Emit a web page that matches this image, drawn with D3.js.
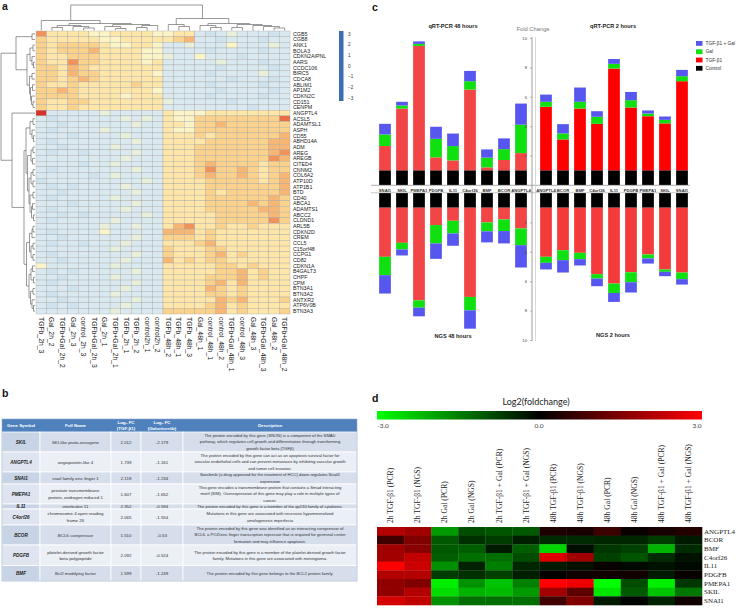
<!DOCTYPE html>
<html><head><meta charset="utf-8">
<script src="https://cdn.jsdelivr.net/npm/d3@7"></script>
<style>body{margin:0;background:#fff}svg{display:block}</style>
</head><body>
<svg id="fig" width="745" height="614"></svg>
<script>
// ================= DATA =================
// Panel a: expression heatmap (colour level 0-9 per cell)
const sampleNames = ["TGFb_2h_3","Gal_2h_2","TGFb+Gal_2h_2","Gal_2h_3","control_2h_3","TGFb+Gal_2h_3","Gal_2h_1","TGFb+Gal_2h_1","TGFb_2h_1","TGFb_2h_2","control2h_1","control2h_2","TGFb_48h_2","TGFb_48h_1","TGFb_48h_3","Gal_48h_1","control_48h_1","control_48h_2","TGFb+Gal_48h_1","control_48h_3","Gal_48h_3","TGFb+Gal_48h_3","Gal_48h_2","TGFb+Gal_48h_2"];
const geneNames = ["CGB5","CGB8","ANK1","BOLA3","CDKN2AIPNL","AARS","CCDC106","BIRC5","CDCA8","ABLIM1","AP1M2","CDKN2C","CD151","CENPM","ANGPTL4","ACSL5","ADAMTSL1","ASPH","CD55","ABHD14A","ADM","AREG","AREGB","CITED4","CNNM2","COL6A2","ATP10D","ATP1B1","BTD","CD40","ABCA1","ADAMTS1","ABCC2","CLDND1","ARL5B","CDKN2D","CREM","CCL5","C15orf48","CCPG1","CD82","CDKN1A","B4GALT3","CHPF","CPM","BTN3A1","BTN3A2","ANTXR2","ATP6V0B","BTN3A3"];
const upCluster2h = [
"744443344443344101211101","544444334444456110111011","545555433443112111311121","545556444433111101111011",
"544555444433211311101111","544755444434111112111011","554654444444111110111101","554655444443111101111211",
"554565444444111111011101","544544444544111101111011","556544444443111110111101","555544443444111101111011",
"544554444444211111011111","544544444444111111110111"];
const upCluster48h = [
"911111211111433344444444","101111112121433555555558","110111111211443556555555","101111211111433555555555",
"111011112111444545555556","101111111211444455555566","110111121111444555555566","101101111211444555555567",
"111111112111444555555576","111101121111444565555455","101111111211444575565455","111110121111444565565456",
"011111111121444455555456","101011112111444455555556","110111111211444454555556","101111121111444455555565",
"111011111211444455556565","101111112111444455555665","110101111121444445555565","101111121111444445555575",
"111111211211467445445444","101111311111666454444444","110111111211555454444444","101101112111444564444444",
"111111121111544455444444","101111111211544456454444","110111112111645455444444","311111121111444445545444",
"101011111211444445564544","110111121111444455564544","101111111211444456464444","111011112111444465454444",
"101111121111444455454444","110111111211444446564445","101011112111444456454444","111111121111555556454445"];
// dendrograms: [height, childA, childB], leaves are indices
const colTree = [25.5,
  [10, 0, [7, [5,[3,1,2],[4,3,[2.5,4,5]]], [6,[4,6,[2,7,8]],[5,[3,9,10],11]]]],
  [12, [6,12,[4,13,14]], [7,[5,15,[3,16,17]],[6,[3,18,19],[5,20,[4,21,[2.5,22,23]]]]]]];
const rowTree = [34,
  [19, [3,0,1], [8, [5,[2,2,3],[3,4,[1.5,5,6]]], [5.5,[3,7,8],[4.5,[2.5,9,10],[3.5,11,[2,12,13]]]]]],
  [23, 14, [11,
    [9, [5,[2,15,16],[3,17,[1.5,18,19]]],
        [7.5, [4,[2,20,21],[2.5,22,23]],
              [6, [4,[2,24,25],[2,26,27]], [5,[2,28,29],[3.5,[2.5,30,31],[1.5,32,33]]]]]],
    [8.5, [5.5,[3,[2,34,35],36],[4,[2,37,38],[2,39,40]]],
          [6,[4,[2.5,41,42],[1.5,43,44]],[4.5,[2,45,46],[3,47,[1.5,48,49]]]]]]]];
const legendTicksA = ["3","2","1","0","\u22121","\u22122","\u22123"];

// Panel b: table
const tblGenes = ["SKIL","ANGPTL4","SNAI1","PMEPA1","IL11","C4orf26","BCOR","PDGFB","BMF"];
const tblFullNames = [["SKI-like proto-oncogene"],["angiopoietin-like 4"],["snail family zinc finger 1"],["prostate transmembrane","protein, androgen induced 1"],["interleukin 11"],["chromosome 4 open reading","frame 26"],["BCL6 corepressor"],["platelet-derived growth factor","beta polypeptide"],["Bcl2 modifying factor"]];
const tblFcTgf = ["2.012","1.739","2.118","1.607","2.352","2.065","1.510","2.092","1.599"];
const tblFcGal = ["-2.179","-1.161","-1.234","-1.652","-0.594","-1.554","-0.53","-0.524","-1.249"];
const tblDesc = [
 ["The protein encoded by this gene  (SNON)  is a component of the SMAD","pathway, which regulates cell growth and differentiation through transforming","growth factor beta (TGF\u03b2)"],
 ["The protein encoded by this gene can act as an apoptosis survival factor for","vascular endothelial cells and can prevent metastasis by inhibiting vascular growth","and tumor cell invasion."],
 ["Sorafenib (a drug approved for the treatment of HCC) down-regulates Snail1","expression"],
 ["This gene encodes a transmembrane protein that contains a Smad interacting","motif (SIM). Overexpression of this gene may play a role in multiple types of","cancer."],
 ["The protein encoded by this gene is a member of the gp130 family of cytokines."],
 ["Mutations in this gene are associated with recessive hypomineralized","amelogenesis imperfecta"],
 ["The protein encoded by this gene was identified as an interacting corepressor of","BCL6, a POZ/zinc finger transcription repressor that is required for germinal center","formation and may influence apoptosis."],
 ["The protein encoded by this gene is a member of the platelet-derived growth factor","family. Mutations in this gene are associated with meningioma."],
 ["The protein encoded by this gene belongs to the BCL2 protein family."]];
const tblHeaders = [["Gene Symbol"],["Full Name"],["Log\u2082 FC","(TGF-\u03b21)"],["Log\u2082 FC","(Galunisertib)"],["Description"]];

// Panel c: stacked fold changes
const genes48 = ["SNAI1","SKIL","PMEPA1","PDGFB","IL11","C4orf26","BMF","BCOR","ANGPTL4"];
const genes2 = ["ANGPTL4","BCOR","BMF","C4orf26","IL11","PDGFB","PMEPA1","SKIL","SNAI1"];
const stackKeys = ["Control","TGF-\u03b21","Gal","TGF-\u03b21 + Gal"];
const controlFC = [1,1,1,1,1,1,1,1,1];
const pcr48Tgf = [1.65,4.2,8.46,0.88,0.67,5.49,0.2,0.7,1.17];
const pcr48Gal = [0.79,0.21,0.14,1.26,0.98,0.57,0.66,0.74,1.93];
const pcr48Combo = [0.72,0.25,0.17,0.82,0.85,0.70,0.56,0.73,1.44];
const pcr2Tgf = [4.32,2.10,4.2,3.16,6.92,4.27,3.68,3.19,6.06];
const pcr2Gal = [0.34,0.41,0.46,0.48,0.32,0.5,0.18,0.24,0.34];
const pcr2Combo = [0.49,0.63,0.97,0.38,0.33,0.56,0.21,0.23,0.43];
const ngs48Tgf = [3.34,2.39,6.3,1.18,0.89,6.07,1.0,0.8,1.41];
const ngs48Gal = [1.25,0.45,0.5,1.25,0.86,0.91,0.61,0.79,1.14];
const ngs48Combo = [1.25,0.41,0.59,1.05,0.84,1.25,0.75,0.84,1.52];
const ngs2Tgf = [3.34,2.89,3.07,4.52,5.16,4.39,3.18,4.2,4.41];
const ngs2Gal = [0.41,0.68,0.43,0.30,0.64,0.68,0.27,0.16,0.45];
const ngs2Combo = [0.45,0.84,0.43,0.52,0.61,0.70,0.35,0.30,0.37];
const fcTicks = [2,4,6,8,10];

// Panel d: log2 fold change heatmap
const condNames = ["2h TGF-\u03b21 (PCR)","2h TGF-\u03b21 (NGS)","2h Gal (PCR)","2h Gal (NGS)","2h TGF-\u03b21 + Gal (PCR)","2h TGF-\u03b21 + Gal (NGS)","48h TGF-\u03b21 (PCR)","48h TGF-\u03b21 (NGS)","48h Gal (PCR)","48h Gal (NGS)","48h TGF-\u03b21 + Gal (PCR)","48h TGF-\u03b21 + Gal (NGS)"];
const dGenes = ["ANGPTL4","BCOR","BMF","C4orf26","IL11","PDGFB","PMEPA1","SKIL","SNAI1"];
const lfcANGPTL4 = [2.1,1.9,-1.8,-0.9,-1.0,-1.05,0.35,0.3,0.7,0.1,0.3,0.4];
const lfcBCOR = [0.75,1.5,-1.05,-0.55,-0.7,-0.35,-0.5,-0.5,-0.45,-0.45,-0.7,-0.3];
const lfcBMF = [1.9,1.6,-1.05,-1.1,-0.3,-1.1,-2.5,-0.15,-0.65,-0.75,-2.1,-0.5];
const lfcC4orf26 = [1.9,2.3,-1.1,-1.3,-1.3,-0.9,2.6,1.9,-0.75,-1.0,-0.5,-0.2];
const lfcIL11 = [3.0,2.4,-1.7,-0.4,-1.5,-0.45,-0.3,-0.2,0.1,-0.1,-0.2,-0.1];
const lfcPDGFB = [2.1,2.1,-0.7,-0.55,-0.75,-0.35,0.05,0.2,0.2,0.2,-0.3,0.1];
const lfcPMEPA1 = [1.7,1.5,-2.8,-1.7,-2.3,-1.5,3.0,2.8,-3.0,-0.9,-2.8,-0.65];
const lfcSKIL = [1.7,2.1,-2.6,-2.1,-2.2,-1.8,1.9,1.1,-2.7,-1.05,-2.3,-1.4];
const lfcSNAI1 = [2.5,2.3,-1.7,-1.3,-1.3,-1.3,0.75,1.5,-0.3,-0.05,-0.4,0.2];
const lfcTickLabels = ["-3.0","0.0","3.0"];

// ================= DRAWING =================
const SANS = "'Liberation Sans', Arial, sans-serif";
const SERIF = "'Liberation Serif', 'Times New Roman', serif";
const svg = d3.select("#fig");

// panel letters
[["a",2,10],["b",2,397],["c",372,11],["d",372,402]].forEach(([t,x,y]) =>
  svg.append("text").attr("x",x).attr("y",y).text(t)
    .attr("font-family",SANS).attr("font-weight","bold").attr("font-size",10.5).attr("fill","#111"));

// ---------- Panel a ----------
const gA = svg.append("g");
const levels = upCluster2h.concat(upCluster48h);
const hx = d3.scaleBand().domain(d3.range(sampleNames.length)).range([36, 290]);
const hy = d3.scaleBand().domain(d3.range(geneNames.length)).range([31, 314]);
const lvlColor = d3.scaleOrdinal().domain(d3.range(10))
  .range(["#cfe3ee","#d9e9ef","#e8f0db","#fbf4c6","#fde6a8","#fbd28c","#f8b673","#f2925b","#ea6e45","#d53228"]);
levels.forEach((row, r) => {
  row.split("").forEach((ch, c) => {
    gA.append("rect").attr("x",hx(c)).attr("y",hy(r))
      .attr("width",hx.bandwidth()).attr("height",hy.bandwidth())
      .attr("fill",lvlColor(+ch)).attr("stroke","#a4a4a4").attr("stroke-width",0.35);
  });
});
gA.selectAll("text.rl").data(geneNames).join("text").attr("class","rl")
  .attr("x",293).attr("y",(d,i)=>hy(i)+hy.bandwidth()/2).attr("dy","0.35em")
  .attr("font-family",SANS).attr("font-size",5.3).attr("fill","#222").text(d=>d);
gA.selectAll("text.cl").data(sampleNames).join("text").attr("class","cl")
  .attr("transform",(d,i)=>`translate(${hx(i)+hx.bandwidth()/2},317) rotate(90)`)
  .attr("dy","0.35em").attr("font-family",SANS).attr("font-size",6.8).attr("fill","#222").text(d=>d);

function drawTree(data, leafPos, hToCoord, vertical) {
  const root = d3.hierarchy(data, d => Array.isArray(d) ? d.slice(1) : null);
  root.eachAfter(n => {
    n.h = Array.isArray(n.data) ? n.data[0] : 0;
    n.p = n.children ? d3.mean(n.children, c => c.p) : leafPos(n.data);
  });
  const path = d3.path();
  root.each(n => {
    if (!n.children) return;
    const hc = hToCoord(n.h);
    const ps = n.children.map(c=>c.p);
    const pt = (p,h) => vertical ? [p,h] : [h,p];
    path.moveTo(...pt(d3.min(ps),hc)); path.lineTo(...pt(d3.max(ps),hc));
    n.children.forEach(c => { path.moveTo(...pt(c.p,hc)); path.lineTo(...pt(c.p,hToCoord(c.h))); });
  });
  gA.append("path").attr("d",path.toString()).attr("fill","none").attr("stroke","#555").attr("stroke-width",0.6);
}
drawTree(colTree, i => hx(i)+hx.bandwidth()/2, h => 30.5 - h, true);
drawTree(rowTree, i => hy(i)+hy.bandwidth()/2, h => 35 - h, false);

gA.append("rect").attr("x",339).attr("y",31).attr("width",4.5).attr("height",70).attr("fill","#3d6db3");
const legY = d3.scalePoint().domain(legendTicksA).range([34,98]);
gA.selectAll("text.lg").data(legendTicksA).join("text").attr("class","lg")
  .attr("x",348).attr("y",d=>legY(d)).attr("dy","0.35em")
  .attr("font-family",SANS).attr("font-size",4.6).attr("fill","#333").text(d=>d);

// ---------- Panel b ----------
const gB = svg.append("g");
const colEdges = [2, 40, 111, 141, 183, 357];
const rowEdges = [419, 432, 452, 472, 484, 504, 509, 525, 545, 565.5, 581];
const lineH = 6.4;
function cellText(lines, x0, x1, y0, y1, opts) {
  const cy = (y0+y1)/2, n = lines.length;
  lines.forEach((ln,k) => {
    gB.append("text").attr("x",(x0+x1)/2).attr("y",cy + (k-(n-1)/2)*lineH).attr("dy","0.35em")
      .attr("text-anchor","middle").attr("font-family",SANS).attr("font-size",opts.size)
      .attr("font-weight",opts.bold?"bold":"normal").attr("font-style",opts.italic?"italic":"normal")
      .attr("fill",opts.fill).text(ln);
  });
}
gB.append("rect").attr("x",colEdges[0]).attr("y",rowEdges[0]).attr("width",colEdges[5]-colEdges[0])
  .attr("height",rowEdges[1]-rowEdges[0]).attr("fill","#4f81bd");
tblHeaders.forEach((h,j)=>cellText(h,colEdges[j],colEdges[j+1],rowEdges[0],rowEdges[1],{size:4.4,bold:true,fill:"#fff"}));
tblGenes.forEach((g,i)=>{
  const y0=rowEdges[i+1], y1=rowEdges[i+2];
  for (let j=0;j<5;j++){
    const fill = i%2===0 ? (j===0?"#c9d3e6":"#d6deec") : (j===0?"#dfe5f0":"#ebeff6");
    gB.append("rect").attr("x",colEdges[j]).attr("y",y0).attr("width",colEdges[j+1]-colEdges[j]).attr("height",y1-y0)
      .attr("fill",fill).attr("stroke","#ffffff").attr("stroke-width",0.8);
  }
  cellText([g],colEdges[0],colEdges[1],y0,y1,{size:4.6,bold:true,italic:true,fill:"#1a1a1a"});
  cellText(tblFullNames[i],colEdges[1],colEdges[2],y0,y1,{size:4.4,fill:"#333"});
  cellText([tblFcTgf[i]],colEdges[2],colEdges[3],y0,y1,{size:4.4,fill:"#333"});
  cellText([tblFcGal[i]],colEdges[3],colEdges[4],y0,y1,{size:4.4,fill:"#333"});
  cellText(tblDesc[i],colEdges[4],colEdges[5],y0,y1,{size:4.15,fill:"#333"});
});
gB.append("rect").attr("x",colEdges[0]).attr("y",rowEdges[0]).attr("width",colEdges[5]-colEdges[0])
  .attr("height",rowEdges[10]-rowEdges[0]).attr("fill","none").attr("stroke","#8fa8cc").attr("stroke-width",0.6);

// ---------- Panel c ----------
const gC = svg.append("g");
const yUp = d3.scaleLinear().domain([0,10]).range([185,38]);
const yDn = d3.scaleLinear().domain([0,10]).range([193,340]);
const x48 = d3.scaleBand().domain(genes48).range([376.5,529.5]).paddingInner(0.31).paddingOuter(0.155);
const x2 = d3.scaleBand().domain(genes2).range([537.5,690.5]).paddingInner(0.31).paddingOuter(0.155);
const stack = d3.stack().keys(stackKeys);
function makeRows(genes, tgf, gal, combo){
  return genes.map((g,i)=>({gene:g,"Control":controlFC[i],"TGF-\u03b21":tgf[i],"Gal":gal[i],"TGF-\u03b21 + Gal":combo[i]}));
}
const segColor = {"Control":"#000000","Gal":"#10e010","TGF-\u03b21 + Gal":"#5757ef"};
function drawStack(rows, xs, ys, up, red){
  stack(rows).forEach(layer=>{
    layer.forEach(seg=>{
      const a = ys(seg[0]), b = ys(seg[1]);
      gC.append("rect").attr("x",xs(seg.data.gene)).attr("width",xs.bandwidth())
        .attr("y",Math.min(a,b)).attr("height",Math.abs(b-a))
        .attr("fill", layer.key==="TGF-\u03b21" ? red : segColor[layer.key]);
    });
  });
}
drawStack(makeRows(genes48,pcr48Tgf,pcr48Gal,pcr48Combo), x48, yUp, true, "#f24545");
drawStack(makeRows(genes2,pcr2Tgf,pcr2Gal,pcr2Combo), x2, yUp, true, "#ff0000");
drawStack(makeRows(genes48,ngs48Tgf,ngs48Gal,ngs48Combo), x48, yDn, false, "#f24545");
drawStack(makeRows(genes2,ngs2Tgf,ngs2Gal,ngs2Combo), x2, yDn, false, "#f43b3b");
// baselines
gC.append("line").attr("x1",371).attr("x2",690).attr("y1",yUp(0)+0.3).attr("y2",yUp(0)+0.3).attr("stroke","#999").attr("stroke-width",0.8);
gC.append("line").attr("x1",371).attr("x2",690).attr("y1",yDn(0)-0.3).attr("y2",yDn(0)-0.3).attr("stroke","#bbb").attr("stroke-width",0.8);
// gene labels
[[genes48,x48],[genes2,x2]].forEach(([gs,xs])=>{
  gC.selectAll(null).data(gs).join("text").attr("x",d=>xs(d)+xs.bandwidth()/2).attr("y",190.5).attr("dy","0.35em")
    .attr("text-anchor","middle").attr("font-family",SANS).attr("font-weight","bold").attr("font-size",4.2).attr("fill","#333").text(d=>d);
});
// axis
const axUp = gC.append("g").attr("transform","translate(532,0)").call(d3.axisLeft(yUp).tickValues(fcTicks).tickSize(2));
const axDn = gC.append("g").attr("transform","translate(532,0)").call(d3.axisLeft(yDn).tickValues(fcTicks).tickSize(2));
[axUp,axDn].forEach(ax=>{
  ax.select(".domain").remove();
  ax.selectAll("line").attr("stroke","#777").attr("stroke-width",0.5);
  ax.selectAll("text").attr("font-size",4.2).attr("font-family",SANS).attr("fill","#444");
});
gC.append("line").attr("x1",532).attr("x2",532).attr("y1",37).attr("y2",341).attr("stroke","#888").attr("stroke-width",0.8);
gC.append("line").attr("x1",535.5).attr("x2",535.5).attr("y1",37).attr("y2",341).attr("stroke","#cfcfcf").attr("stroke-width",0.8);
// titles
[["qRT-PCR 48 hours",453,28],["qRT-PCR 2 hours",613,28],["NGS 48 hours",453,338],["NGS 2 hours",613,337]].forEach(([t,x,y])=>
  gC.append("text").attr("x",x).attr("y",y).attr("text-anchor","middle").attr("font-family",SANS)
    .attr("font-weight","bold").attr("font-size",5.6).attr("fill","#222").text(t));
gC.append("text").attr("x",533).attr("y",31).attr("text-anchor","middle").attr("font-family",SANS)
  .attr("font-size",5.8).attr("fill","#777").text("Fold Change");
// legend
const legKeys = stackKeys.slice().reverse();
const legClr = {"TGF-\u03b21 + Gal":"#5757ef","Gal":"#10e010","TGF-\u03b21":"#ff0000","Control":"#000"};
legKeys.forEach((k,i)=>{
  gC.append("rect").attr("x",696).attr("y",41+i*8.3).attr("width",6.5).attr("height",4.8).attr("fill",legClr[k]);
  gC.append("text").attr("x",705.5).attr("y",43.5+i*8.3).attr("dy","0.35em").attr("font-family",SANS)
    .attr("font-size",4.8).attr("fill","#333").text(k);
});

// ---------- Panel d ----------
const gD = svg.append("g");
const lfcColor = d3.scaleLinear().domain([-3,0,3]).range(["#00ff00","#000000","#ff0000"]).clamp(true);
gD.append("text").attr("x",536).attr("y",405).attr("text-anchor","middle").attr("font-family","Lato, 'Open Sans', sans-serif")
  .attr("font-size",9).attr("fill","#222").text("Log2(foldchange)");
const defs = svg.append("defs");
const grad = defs.append("linearGradient").attr("id","lfcGrad");
d3.range(0,1.0001,0.1).forEach(t=>grad.append("stop").attr("offset",t).attr("stop-color",lfcColor(-3+6*t)));
const gbX = d3.scaleLinear().domain([-3,3]).range([377,702]);
gD.append("rect").attr("x",gbX(-3)).attr("y",411).attr("width",gbX(3)-gbX(-3)).attr("height",8.5).attr("fill","url(#lfcGrad)");
gD.selectAll(null).data(lfcTickLabels).join("text").attr("x",(d,i)=>[383,539,697][i]).attr("y",428)
  .attr("text-anchor","middle").attr("font-family","Lato, 'Open Sans', sans-serif").attr("font-size",6.5).attr("fill","#444").text(d=>d);
const dRows = [lfcANGPTL4,lfcBCOR,lfcBMF,lfcC4orf26,lfcIL11,lfcPDGFB,lfcPMEPA1,lfcSKIL,lfcSNAI1];
const dx = d3.scaleBand().domain(d3.range(condNames.length)).range([377,702]);
const dy = d3.scaleBand().domain(dGenes).range([527,605]);
dRows.forEach((vals,r)=>{
  vals.forEach((v,c)=>{
    gD.append("rect").attr("x",dx(c)).attr("y",dy(dGenes[r])).attr("width",dx.bandwidth()+0.3).attr("height",dy.bandwidth()+0.3)
      .attr("fill",lfcColor(v));
  });
});
gD.selectAll("text.dr").data(dGenes).join("text").attr("class","dr").attr("x",704).attr("y",d=>dy(d)+dy.bandwidth()/2)
  .attr("dy","0.35em").attr("font-family",SERIF).attr("font-size",7).attr("fill","#222").text(d=>d);
gD.selectAll("text.dc").data(condNames).join("text").attr("class","dc")
  .attr("transform",(d,i)=>`translate(${dx(i)+dx.bandwidth()/2},523) rotate(-90)`)
  .attr("dy","0.35em").attr("font-family",SERIF).attr("font-size",7.6).attr("fill","#222").text(d=>d);
</script>
</body></html>
